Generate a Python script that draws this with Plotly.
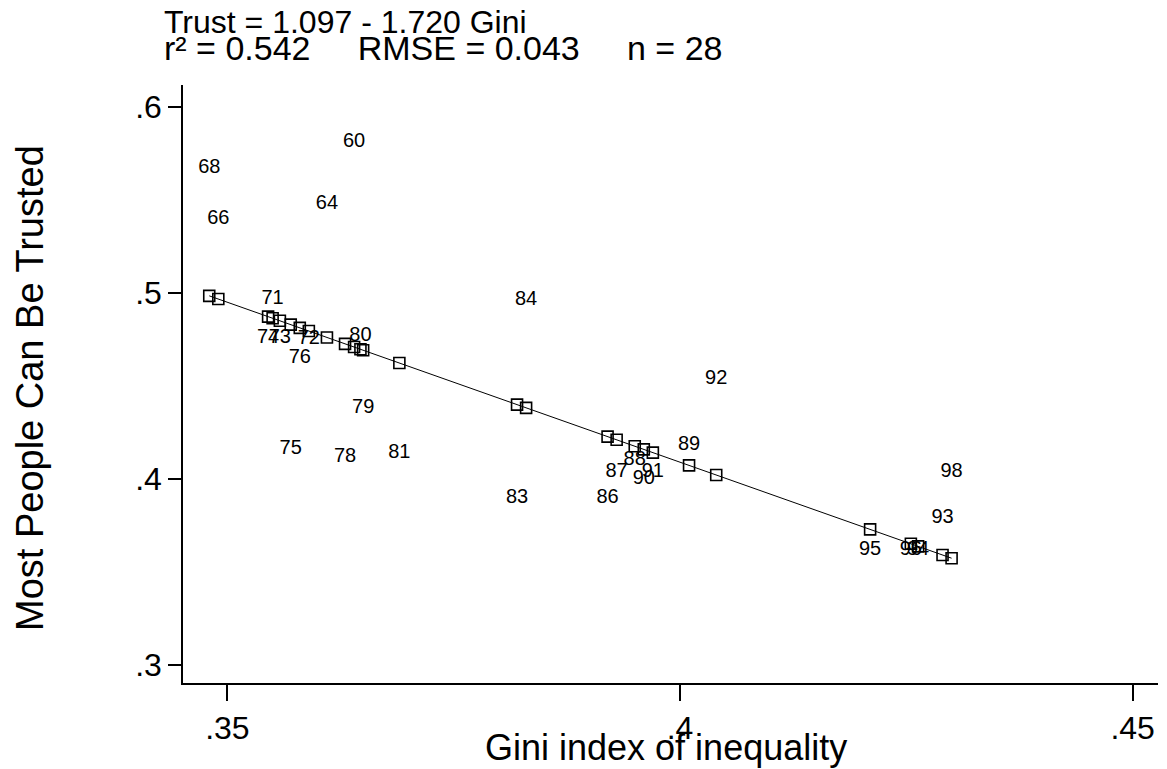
import plotly.graph_objects as go

# ---- data ----
years = ["60", "64", "66", "68", "71", "72", "73", "74", "75", "76", "78", "79", "80", "81",
         "83", "84", "86", "87", "88", "89", "90", "91", "92", "93", "94", "95", "96", "98"]
gini = [0.364, 0.361, 0.349, 0.348, 0.355, 0.359, 0.3558, 0.3545, 0.357, 0.358, 0.363, 0.365, 0.3647, 0.369,
        0.382, 0.383, 0.392, 0.393, 0.395, 0.401, 0.396, 0.397, 0.404, 0.429, 0.4263, 0.421, 0.4255, 0.430]
trust = [0.581, 0.548, 0.540, 0.567, 0.497, 0.475, 0.476, 0.476, 0.416, 0.465, 0.412, 0.438, 0.477, 0.414,
         0.390, 0.496, 0.390, 0.404, 0.410, 0.418, 0.400, 0.404, 0.454, 0.379, 0.362, 0.362, 0.362, 0.404]
intercept = 1.097
slope = -1.720
r2 = 0.542
rmse = 0.043
n_obs = 28

x_ticks = [0.35, 0.40, 0.45]
x_ticktext = [".35", ".4", ".45"]
y_ticks = [0.3, 0.4, 0.5, 0.6]
y_ticktext = [".3", ".4", ".5", ".6"]

FONT = "Liberation Sans, Arial, sans-serif"

order = sorted(range(len(gini)), key=lambda i: gini[i])
gx = [gini[i] for i in order]
fitted = [intercept + slope * g for g in gx]

fig = go.Figure()
fig.add_trace(go.Scatter(
    x=gx, y=fitted, mode="lines+markers",
    line=dict(color="black", width=1),
    marker=dict(symbol="square-open", size=11, color="black", line=dict(width=1.6, color="black")),
    hoverinfo="skip", showlegend=False))
fig.add_trace(go.Scatter(
    x=gini, y=trust, mode="text", text=years, textposition="middle center",
    textfont=dict(family=FONT, size=20, color="black"), showlegend=False))

# page body adds an 8px offset at top-left
OFF = 8
W, H = 1167, 769
plot_l, plot_r, plot_t, plot_b = 183, 1158, 85, 683  # in window pixels
L = plot_l - OFF
R = W - (plot_r - OFF)
T = plot_t - OFF
B = H - (plot_b - OFF)
pw, ph = W - L - R, H - T - B

def px(xp):
    return (xp - plot_l) / pw

def py(yp):
    return (plot_b - yp) / ph

gap = "\u00a0" * 5
annots = [
    dict(text=f"Trust = {intercept:.3f} - {abs(slope):.3f} Gini", x=px(162), y=py(22),
         xanchor="left", yanchor="middle", font=dict(size=32)),
    dict(text=f"r² = {r2:.3f}{gap}RMSE = {rmse:.3f}{gap}n = {n_obs}", x=px(162), y=py(48),
         xanchor="left", yanchor="middle", font=dict(size=34)),
    dict(text="Gini index of inequality", x=px(666), y=py(747), xanchor="center", yanchor="middle",
         font=dict(size=36)),
    dict(text="Most People Can Be Trusted", x=px(30), y=py(388), xanchor="center", yanchor="middle",
         textangle=-90, font=dict(size=38)),
]
for a in annots:
    a.update(xref="paper", yref="paper", showarrow=False)
    a["font"].update(family=FONT, color="black")

fig.update_layout(
    width=W, height=H,
    margin=dict(l=L, r=R, t=T, b=B, autoexpand=False),
    plot_bgcolor="white", paper_bgcolor="white",
    font=dict(family=FONT, color="black"),
    annotations=annots,
    xaxis=dict(range=[0.3451, 0.4528], showgrid=False, zeroline=False, showline=True,
               linecolor="black", linewidth=1.5, ticks="outside", ticklen=16, tickwidth=1.5,
               tickcolor="black", tickvals=x_ticks, ticktext=x_ticktext,
               tickfont=dict(size=32, family=FONT), mirror=False),
    yaxis=dict(range=[0.2903, 0.6118], showgrid=False, zeroline=False, showline=True,
               linecolor="black", linewidth=1.5, ticks="outside", ticklen=13, tickwidth=1.5,
               tickcolor="black", tickvals=y_ticks, ticktext=y_ticktext,
               tickfont=dict(size=32, family=FONT), mirror=False),
)

fig.write_html("out.html")
